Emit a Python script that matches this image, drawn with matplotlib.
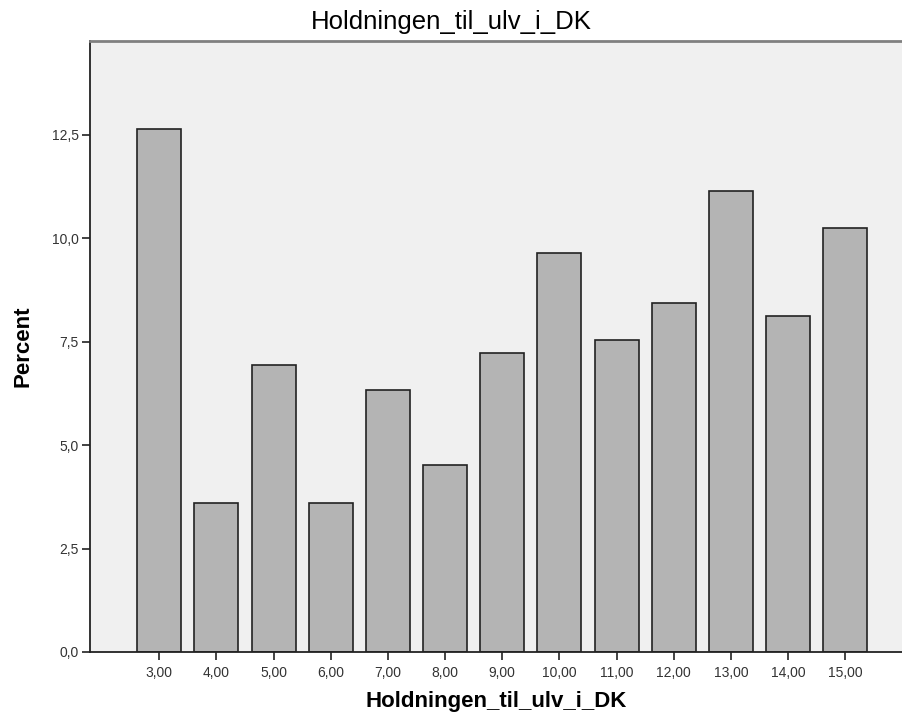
import matplotlib.pyplot as plt
from matplotlib.ticker import FuncFormatter

categories = ['3,00', '4,00', '5,00', '6,00', '7,00', '8,00', '9,00',
              '10,00', '11,00', '12,00', '13,00', '14,00', '15,00']
percent = [12.65, 3.61, 6.93, 3.61, 6.33, 4.52, 7.23,
           9.64, 7.53, 8.43, 11.14, 8.13, 10.24]

plt.rcParams['font.family'] = ['Liberation Sans', 'DejaVu Sans']

fig = plt.figure(figsize=(9.03, 7.19), dpi=100)
ax = fig.add_axes([0.0997, 0.0932, 0.9003, 0.8498])
ax.set_facecolor('#f0f0f0')

pos = list(range(len(categories)))
ax.bar(pos, percent, width=0.77, color='#b4b4b4', edgecolor='#222222',
       linewidth=1.2, zorder=2)

ax.set_xlim(-1.21, 13.01)
ax.set_ylim(0, 14.77)
ax.set_xticks(pos)
ax.set_xticklabels(categories)
ax.set_yticks([0, 2.5, 5, 7.5, 10, 12.5])
ax.yaxis.set_major_formatter(FuncFormatter(lambda v, p: f'{v:.1f}'.replace('.', ',')))
ax.tick_params(axis='both', labelsize=10, length=6, width=1.2, color='#222222',
               labelcolor='#333333', pad=2)
ax.tick_params(axis='x', pad=4)

ax.spines['right'].set_visible(False)
ax.spines['top'].set_color('#808080')
ax.spines['top'].set_linewidth(2)
for side in ['left', 'bottom']:
    ax.spines[side].set_color('#222222')
    ax.spines[side].set_linewidth(1.3)

# title sits over the figure centre, not the axes centre
fig.suptitle('Holdningen_til_ulv_i_DK', fontsize=18.5, x=0.5, y=0.969, va='center')
ax.set_xlabel('Holdningen_til_ulv_i_DK', fontsize=16, fontweight='bold', labelpad=8)
ax.set_ylabel('Percent', fontsize=16, fontweight='bold', labelpad=13)

fig.savefig('out.png', dpi=100)
